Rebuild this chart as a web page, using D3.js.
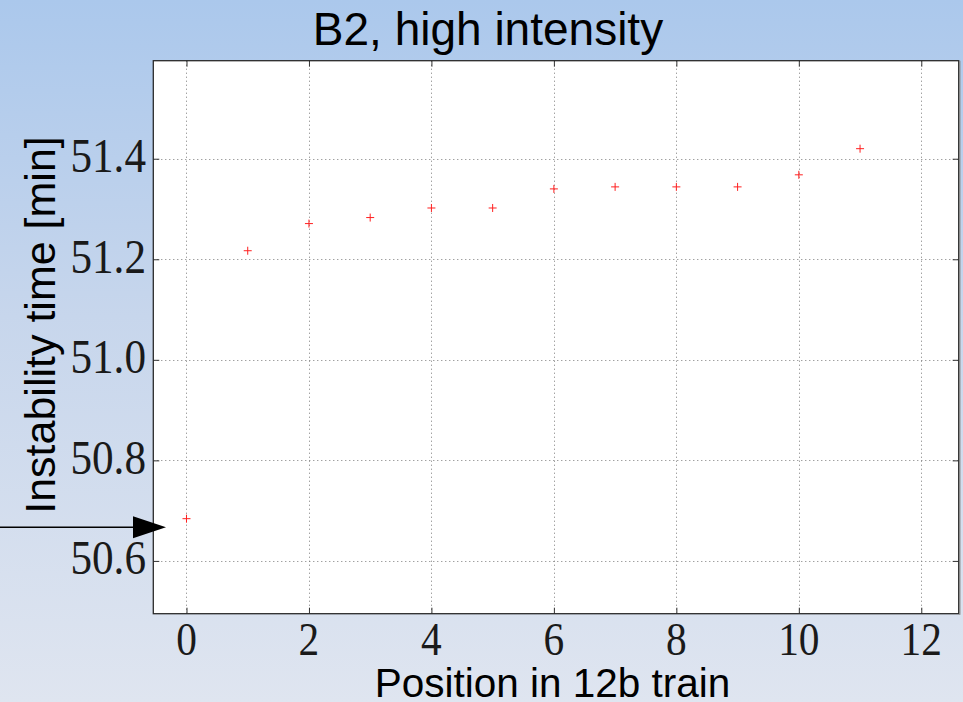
<!DOCTYPE html>
<html>
<head>
<meta charset="utf-8">
<script src="https://cdn.jsdelivr.net/npm/d3@7"></script>
<style>
  html, body { margin: 0; padding: 0; background: #dfe5f0; }
  svg { display: block; }
</style>
</head>
<body>
<svg id="chart" width="963" height="702"></svg>
<script>
// Bunch position within the 12-bunch train
const positions = [0, 1, 2, 3, 4, 5, 6, 7, 8, 9, 10, 11];
// Instability onset time for each bunch [min]
const instabilityTime = [50.684, 51.217, 51.271, 51.283, 51.302, 51.302,
                         51.340, 51.344, 51.344, 51.344, 51.368, 51.420];
const xTicks = [0, 2, 4, 6, 8, 10, 12];
const yTicks = [50.6, 50.8, 51.0, 51.2, 51.4];
// Level marked by the arrow on the left
const arrowLevel = [50.667];

(function () {
const svg = d3.select("#chart");
const W = 963, H = 702;
const pLeft = 153.3, pRight = 958.7, pTop = 60.7, pBottom = 613.7;

const x = d3.scaleLinear().domain([-0.542, 12.611]).range([pLeft, pRight]);
const y = d3.scaleLinear().domain([50.495, 51.595]).range([pBottom, pTop]);

// background gradient
const defs = svg.append("defs");
const grad = defs.append("linearGradient").attr("id", "bg")
  .attr("x1", 0).attr("y1", 0).attr("x2", 0).attr("y2", 1);
grad.append("stop").attr("offset", "0%").attr("stop-color", "#abc8ec");
grad.append("stop").attr("offset", "45%").attr("stop-color", "#c7d6ec");
grad.append("stop").attr("offset", "100%").attr("stop-color", "#dfe5f0");
svg.append("rect").attr("width", W).attr("height", H).attr("fill", "url(#bg)");

// plot area
svg.append("rect")
  .attr("x", pLeft).attr("y", pTop)
  .attr("width", pRight - pLeft).attr("height", pBottom - pTop)
  .attr("fill", "#ffffff");

// grid
const grid = svg.append("g").attr("stroke", "#7a7a7a").attr("stroke-width", 1)
  .attr("stroke-dasharray", "1,3");
grid.selectAll("line.vx").data(xTicks).join("line")
  .attr("x1", d => Math.round(x(d)) + 0.5).attr("x2", d => Math.round(x(d)) + 0.5)
  .attr("y1", pTop).attr("y2", pBottom);
grid.selectAll("line.hy").data(yTicks).join("line")
  .attr("y1", d => Math.round(y(d)) + 0.5).attr("y2", d => Math.round(y(d)) + 0.5)
  .attr("x1", pLeft).attr("x2", pRight);

// axes: inside ticks on all four sides
const tickLen = 6;
const xAxisB = d3.axisBottom(x).tickValues(xTicks).tickSizeInner(-tickLen).tickSizeOuter(0).tickFormat("");
const xAxisT = d3.axisTop(x).tickValues(xTicks).tickSizeInner(-tickLen).tickSizeOuter(0).tickFormat("");
const yAxisL = d3.axisLeft(y).tickValues(yTicks).tickSizeInner(-tickLen).tickSizeOuter(0).tickFormat("");
const yAxisR = d3.axisRight(y).tickValues(yTicks).tickSizeInner(-tickLen).tickSizeOuter(0).tickFormat("");
[
  [xAxisB, `translate(0,${pBottom})`],
  [xAxisT, `translate(0,${pTop})`],
  [yAxisL, `translate(${pLeft},0)`],
  [yAxisR, `translate(${pRight},0)`]
].forEach(([ax, tr]) => {
  const g = svg.append("g").attr("transform", tr).call(ax);
  g.select(".domain").remove();
  g.selectAll(".tick line").attr("stroke", "#333").attr("stroke-width", 1);
});

// frame
svg.append("rect")
  .attr("x", pLeft).attr("y", pTop)
  .attr("width", pRight - pLeft).attr("height", pBottom - pTop)
  .attr("fill", "none").attr("stroke", "#2a2a2a").attr("stroke-width", 1.3);
svg.append("line")
  .attr("x1", pRight + 1).attr("x2", pRight + 1).attr("y1", pTop).attr("y2", pBottom + 1)
  .attr("stroke", "#8a8a8a").attr("stroke-width", 1.5);

// tick labels (serif, math style)
const tickFont = "'Liberation Serif', 'DejaVu Serif', serif";
svg.append("g").selectAll("text").data(xTicks).join("text")
  .attr("transform", d => `translate(${x(d)},${pBottom + 41}) scale(0.88,1)`)
  .attr("text-anchor", "middle")
  .attr("font-family", tickFont).attr("font-size", 47)
  .attr("fill", "#1a1a1a")
  .text(d => d3.format("d")(d));
svg.append("g").selectAll("text").data(yTicks).join("text")
  .attr("transform", d => `translate(146,${y(d) + 13.5}) scale(0.9,1)`)
  .attr("text-anchor", "end")
  .attr("font-family", tickFont).attr("font-size", 48)
  .attr("fill", "#1a1a1a")
  .text(d => d3.format(".1f")(d));

// data markers
const half = 4;
const pts = svg.append("g").attr("stroke", "#ff2020").attr("stroke-width", 1);
positions.forEach((p, i) => {
  const cx = x(p), cy = y(instabilityTime[i]);
  pts.append("line").attr("x1", cx - half).attr("x2", cx + half).attr("y1", cy).attr("y2", cy);
  pts.append("line").attr("x1", cx).attr("x2", cx).attr("y1", cy - half).attr("y2", cy + half);
});

// arrow pointing at the axis
const ay = y(arrowLevel[0]);
svg.append("line")
  .attr("x1", 0).attr("x2", 136).attr("y1", ay).attr("y2", ay)
  .attr("stroke", "#000").attr("stroke-width", 1.3);
svg.append("path")
  .attr("d", `M133,${ay - 11} L166,${ay} L133,${ay + 11} Z`)
  .attr("fill", "#000");

// titles
const sans = "'Liberation Sans', Arial, sans-serif";
svg.append("text")
  .attr("x", 488).attr("y", 44.5)
  .attr("text-anchor", "middle")
  .attr("font-family", sans).attr("font-size", 46)
  .attr("fill", "#000")
  .text("B2, high intensity");
svg.append("text")
  .attr("x", 552.5).attr("y", 697)
  .attr("text-anchor", "middle")
  .attr("font-family", sans).attr("font-size", 40.5)
  .attr("fill", "#000")
  .text("Position in 12b train");
svg.append("text")
  .attr("transform", "translate(55,325) rotate(-90)")
  .attr("text-anchor", "middle")
  .attr("font-family", sans).attr("font-size", 43)
  .attr("fill", "#000")
  .text("Instability time [min]");
})();
</script>
</body>
</html>
